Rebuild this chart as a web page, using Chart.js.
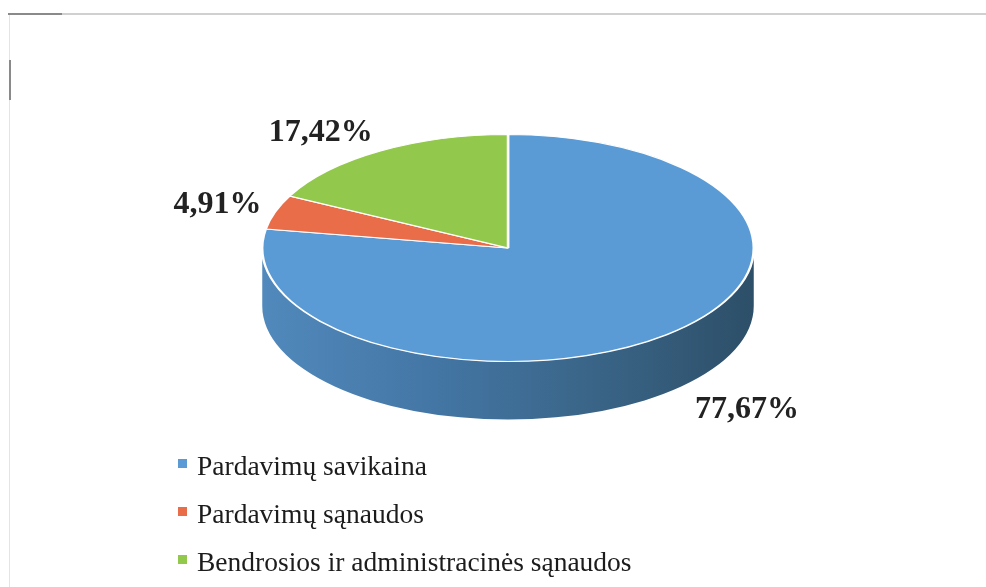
<!DOCTYPE html>
<html>
<head>
<meta charset="utf-8">
<script src="https://cdn.jsdelivr.net/npm/chart.js@4.4.1/dist/chart.umd.min.js"></script>
<style>
  body { margin: 0; background: #fff; width: 986px; height: 587px; overflow: hidden; position: relative;
         font-family: "Liberation Serif", "Times New Roman", serif; }
  #frame { position: absolute; left: 9px; top: 13px; right: 0; bottom: 0;
           border-top: 2px solid #d0d0d0; border-left: 1px solid #e4e4e4; }
  .mark1 { position: absolute; left: 8px; top: 13px; width: 54px; height: 2px; background: #8a8a8a; }
  .mark2 { position: absolute; left: 9px; top: 60px; width: 2px; height: 40px; background: #8a8a8a; }
  #chartBox { position: absolute; left: 0; top: 0; width: 986px; height: 587px; }
  #legend { position: absolute; left: 178px; top: 446px; }
  .item { height: 48px; line-height: 40px; font-size: 27.5px; color: #1c1c1c; white-space: nowrap; }
  .item span { display: inline-block; width: 9px; height: 9px; margin-right: 10px; vertical-align: 7px; }
</style>
</head>
<body>
<div id="frame"></div>
<div class="mark1"></div>
<div class="mark2"></div>
<div id="chartBox"><canvas id="pie"></canvas></div>
<div id="legend"></div>
<script>
// data
const labels = ["Pardavimų savikaina", "Pardavimų sąnaudos", "Bendrosios ir administracinės sąnaudos"];
const shares = [77.67, 4.91, 17.42];
const colors = ["#5b9bd5", "#ea6d4a", "#92c84c"];
const sideShades = [
  ["#5189bc", "#4477a6", "#3a6588", "#2d4f68"],
  ["#c0563a", "#a84a32", "#8e3e2a", "#763322"],
  ["#78a83c", "#689334", "#587d2c", "#486724"],
];

const TILT = 0.462;   // vertical squash of the pie top
const DEPTH = 58;     // thickness of the 3d side

const pie3d = {
  id: "pie3d",
  beforeDatasetsDraw(chart) {
    const ctx = chart.ctx;
    const arcs = chart.getDatasetMeta(0).data;
    const cx = arcs[0].x, cy = arcs[0].y, rx = arcs[0].outerRadius, ry = rx * TILT;

    // side walls, only the front half (0..PI) is visible
    arcs.forEach((arc, i) => {
      const a0 = Math.max(arc.startAngle, 0);
      const a1 = Math.min(arc.endAngle, Math.PI);
      if (a1 <= a0) return;
      const g = ctx.createLinearGradient(cx - rx, 0, cx + rx, 0);
      sideShades[i].forEach((c, j) => g.addColorStop(j / (sideShades[i].length - 1), c));
      ctx.beginPath();
      ctx.ellipse(cx, cy, rx, ry, 0, a0, a1);
      ctx.ellipse(cx, cy + DEPTH, rx, ry, 0, a1, a0, true);
      ctx.closePath();
      ctx.fillStyle = g;
      ctx.fill();
    });

    // top face: library arcs squashed into an ellipse
    ctx.save();
    ctx.translate(0, cy);
    ctx.scale(1, TILT);
    ctx.translate(0, -cy);
    arcs.forEach((a) => a.draw(ctx));
    ctx.restore();
    return false;
  },
  // afterDatasetsDraw is skipped when the draw above is cancelled
  afterDraw(chart) {
    const ctx = chart.ctx;
    const arcs = chart.getDatasetMeta(0).data;
    const cx = arcs[0].x, cy = arcs[0].y, rx = arcs[0].outerRadius, ry = rx * TILT;
    const total = shares.reduce((a, b) => a + b, 0);
    ctx.save();
    ctx.font = "bold 32px 'Liberation Serif', 'Times New Roman', serif";
    ctx.fillStyle = "#222";
    ctx.textBaseline = "middle";
    arcs.forEach((arc, i) => {
      const mid = (arc.startAngle + arc.endAngle) / 2;
      const c = Math.cos(mid), s = Math.sin(mid);
      const gapX = c < 0 ? 14 : 44;
      const x = cx + (rx + gapX) * c;
      const y = cy + (ry + 22) * s + (s > 0 ? DEPTH : 0);
      ctx.textAlign = c < 0 ? "right" : "left";
      const txt = (shares[i] / total * 100).toFixed(2).replace(".", ",") + "%";
      ctx.fillText(txt, x, y);
    });
    ctx.restore();
  },
};

new Chart(document.getElementById("pie"), {
  type: "pie",
  data: {
    labels: labels,
    datasets: [{
      data: shares,
      backgroundColor: colors,
      borderColor: "#ffffff",
      borderWidth: 2.5,
    }],
  },
  options: {
    responsive: true,
    maintainAspectRatio: false,
    animation: false,
    events: [],
    layout: { padding: { left: 261, right: 231, top: 1, bottom: 92 } },
    plugins: { legend: { display: false }, tooltip: { enabled: false } },
  },
  plugins: [pie3d],
});

// legend
const legendEl = document.getElementById("legend");
labels.forEach((l, i) => {
  const d = document.createElement("div");
  d.className = "item";
  d.innerHTML = `<span style="background:${colors[i]}"></span>${l}`;
  legendEl.appendChild(d);
});
</script>
</body>
</html>
